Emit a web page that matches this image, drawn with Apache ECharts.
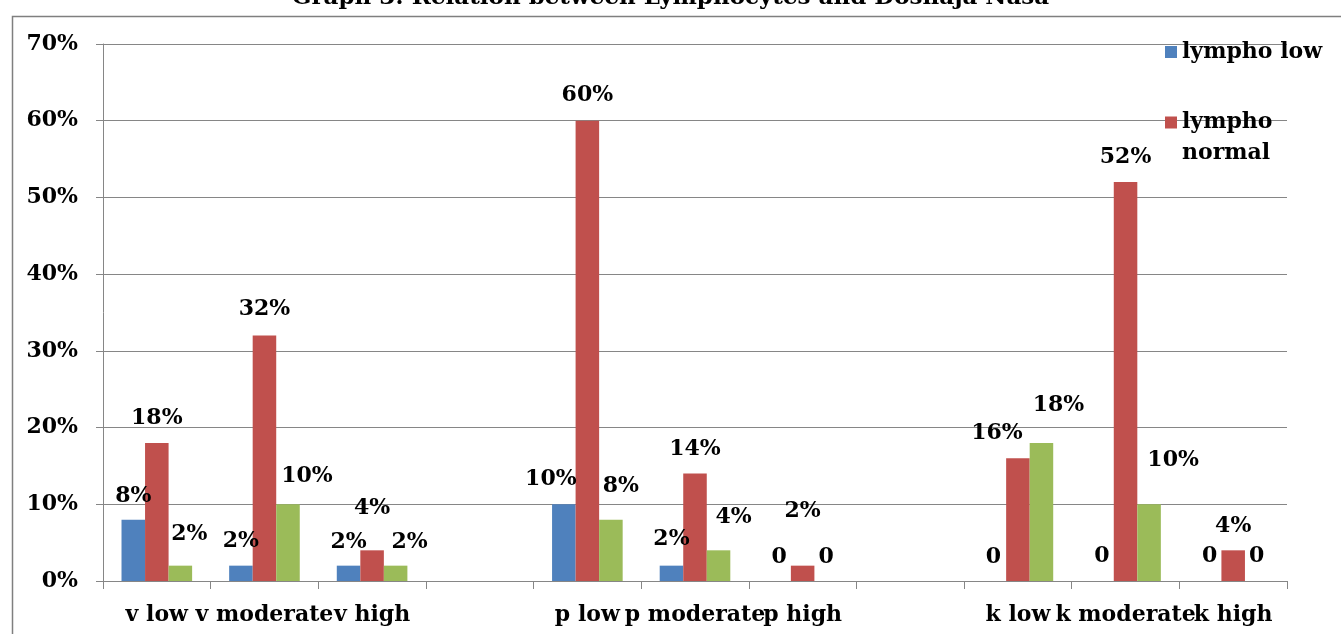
<!DOCTYPE html>
<html>
<head>
<meta charset="utf-8">
<style>
  html, body { margin: 0; padding: 0; background: #ffffff; }
  #chart { width: 1341px; height: 634px; }
</style>
<script src="https://cdn.jsdelivr.net/npm/echarts@6/dist/echarts.min.js"></script>
</head>
<body>
<div id="chart"></div>
<script>
// Categories along the x axis (blank slots separate the three dosha groups)
const categories = ['v low', 'v moderate', 'v high', '', 'p low', 'p moderate', 'p high', '', 'k low', 'k moderate', 'k high'];

// Share of patients (%) per lymphocyte level
const lymphoLow    = [8, 2, 2, null, 10, 2, 0, null, 0, 0, 0];
const lymphoNormal = [18, 32, 4, null, 60, 14, 2, null, 16, 52, 4];
const lymphoHigh   = [2, 10, 2, null, 8, 4, 0, null, 18, 10, 0];

// Y axis tick values
const yTicks = [0, 10, 20, 30, 40, 50, 60, 70];

// Hand-placed data label nudges [dx, dy] for each bar
const lowLabelShift    = [[0,-7],[0,-8],[0,-7],null,[-13,-9],[0,-10],[0,-8],null,[-1,-8],[0,-9],[0,-9]];
const normalLabelShift = [[0,-9],[0,-10],[0,-26],null,[0,-9],[0,-8],[0,-38],null,[-21,-9],[0,-9],[0,-8]];
const highLabelShift   = [[9,-15],[19,-12],[14,-7],null,[10,-17],[15,-17],[0,-8],null,[17,-22],[24,-28],[0,-9]];

const FONT = 'DejaVu Serif';
const AXIS_GRAY = '#868686';

function withLabels(values, shifts) {
  return values.map((v, i) => {
    if (v === null) return '-';
    return { value: v, label: { offset: shifts[i] || [0, 0] } };
  });
}

function pctLabel(p) {
  const v = p.value;
  return v === 0 ? '0' : v + '%';
}

const labelStyle = {
  show: true,
  position: 'top',
  distance: 5,
  fontFamily: FONT,
  fontWeight: 'bold',
  fontSize: 22,
  color: '#000',
  formatter: pctLabel
};

const legendText = { fontFamily: FONT, fontWeight: 'bold', fontSize: 22, color: '#000' };

const chart = echarts.init(document.getElementById('chart'), null, { renderer: 'canvas' });

chart.setOption({
  animation: false,
  backgroundColor: '#ffffff',
  title: {
    text: 'Graph 3: Relation between Lymphocytes and Doshaja Nasa',
    left: 'center',
    top: -18,
    textStyle: { fontFamily: FONT, fontWeight: 'bold', fontSize: 23, color: '#000' }
  },
  graphic: [{
    type: 'rect',
    left: 10,
    top: 14,
    shape: { width: 1400, height: 700 },
    style: { fill: 'none', stroke: '#7f7f7f', lineWidth: 1.5 },
    silent: true,
    z: -1
  }],
  legend: [{
    data: ['lympho low'],
    orient: 'vertical',
    left: 1160,
    top: 36,
    itemWidth: 12,
    itemHeight: 12,
    icon: 'rect',
    textStyle: legendText
  }, {
    data: ['lympho normal'],
    orient: 'vertical',
    left: 1160,
    top: 71,
    itemWidth: 12,
    itemHeight: 12,
    icon: 'rect',
    // leading blank line keeps the swatch level with the first word
    formatter: () => '\nlympho\nnormal',
    textStyle: Object.assign({ lineHeight: 31 }, legendText)
  }],
  grid: { left: 103, right: 54, top: 44, bottom: 53, containLabel: false },
  xAxis: {
    type: 'category',
    data: categories,
    axisLine: { lineStyle: { color: AXIS_GRAY, width: 1 } },
    axisTick: { show: true, length: 8, alignWithLabel: false, lineStyle: { color: AXIS_GRAY } },
    axisLabel: {
      interval: 0,
      margin: 23,
      fontFamily: FONT, fontWeight: 'bold', fontSize: 22, color: '#000'
    },
    splitLine: { show: false }
  },
  yAxis: {
    type: 'value',
    min: yTicks[0],
    max: yTicks[yTicks.length - 1],
    interval: yTicks[1] - yTicks[0],
    axisLine: { show: true, lineStyle: { color: AXIS_GRAY, width: 1 } },
    axisTick: { show: true, length: 7, lineStyle: { color: AXIS_GRAY } },
    axisLabel: {
      margin: 25,
      formatter: '{value}%',
      fontFamily: FONT, fontWeight: 'bold', fontSize: 22, color: '#000'
    },
    splitLine: { show: true, lineStyle: { color: AXIS_GRAY, width: 1 } }
  },
  series: [{
    name: 'lympho low',
    type: 'bar',
    barGap: '0%',
    barCategoryGap: '34.4%',
    itemStyle: { color: '#4F81BD' },
    label: labelStyle,
    data: withLabels(lymphoLow, lowLabelShift)
  }, {
    name: 'lympho normal',
    type: 'bar',
    barGap: '0%',
    barCategoryGap: '34.4%',
    itemStyle: { color: '#C0504D' },
    label: labelStyle,
    data: withLabels(lymphoNormal, normalLabelShift)
  }, {
    name: 'lympho high',
    type: 'bar',
    barGap: '0%',
    barCategoryGap: '34.4%',
    itemStyle: { color: '#9BBB59' },
    label: labelStyle,
    data: withLabels(lymphoHigh, highLabelShift)
  }]
});
</script>
</body>
</html>
